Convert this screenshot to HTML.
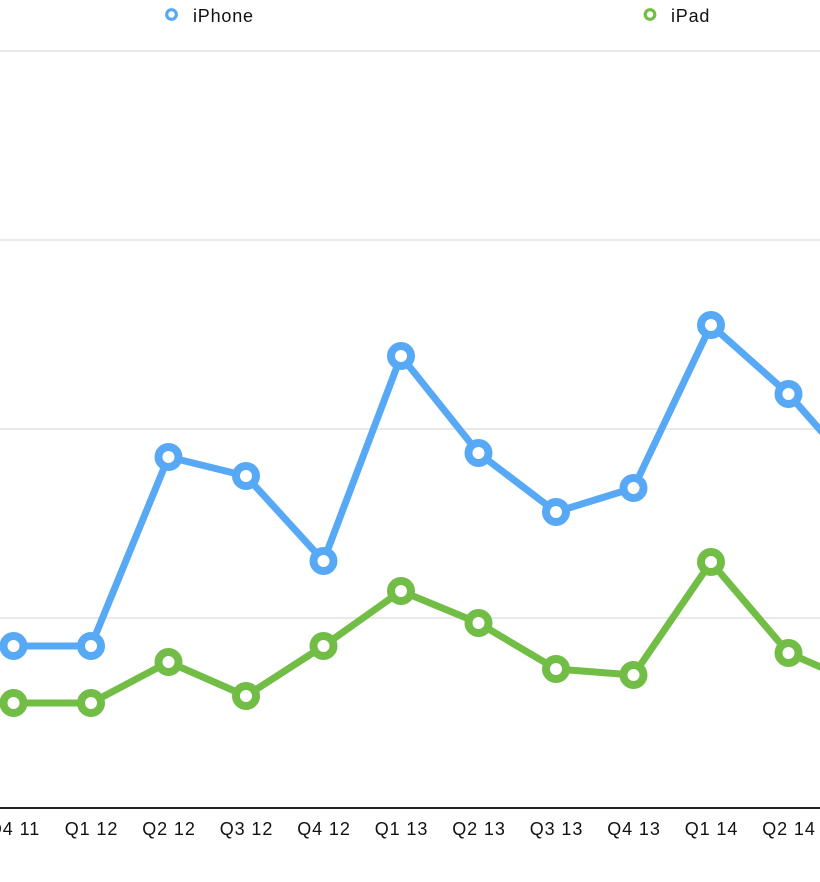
<!DOCTYPE html>
<html>
<head>
<meta charset="utf-8">
<style>
  html, body { margin:0; padding:0; background:#fff; }
  svg { display:block; }
  text { font-family: "Liberation Sans", Arial, sans-serif; fill:#111; }
</style>
</head>
<body>
<svg width="820" height="882" viewBox="0 0 820 882" xmlns="http://www.w3.org/2000/svg">
  <rect width="820" height="882" fill="#fff"/>
  <!-- gridlines -->
  <g stroke="#dcdcdc" stroke-width="1.2">
    <line x1="0" y1="51" x2="820" y2="51"/>
    <line x1="0" y1="240" x2="820" y2="240"/>
    <line x1="0" y1="429" x2="820" y2="429"/>
    <line x1="0" y1="618" x2="820" y2="618"/>
  </g>
  <!-- axis -->
  <line x1="0" y1="808" x2="820" y2="808" stroke="#222" stroke-width="2"/>

  <!-- legend -->
  <circle cx="171.5" cy="14.5" r="4.8" fill="#fff" stroke="#57a9f5" stroke-width="3.2"/>
  <text x="193" y="22" font-size="18" letter-spacing="0.8">iPhone</text>
  <circle cx="650" cy="14.5" r="4.8" fill="#fff" stroke="#71bd45" stroke-width="3.2"/>
  <text x="671" y="22" font-size="18" letter-spacing="0.8">iPad</text>

  <!-- series lines -->
  <polyline fill="none" stroke="#71bd45" stroke-width="7" stroke-linejoin="round" stroke-linecap="round"
    points="13.5,703 91,703 168.5,662 246,696 323.5,646 401,591 478.5,623 556,669 633.5,675 711,562 788.5,653 866,687"/>
  <polyline fill="none" stroke="#57a9f5" stroke-width="7" stroke-linejoin="round" stroke-linecap="round"
    points="13.5,646 91,646 168.5,457 246,476 323.5,561 401,356 478.5,453 556,512 633.5,488 711,325 788.5,394 866,482"/>

  <!-- markers -->
  <g fill="#fff" stroke="#71bd45" stroke-width="8">
    <circle cx="13.5" cy="703" r="10"/>
    <circle cx="91" cy="703" r="10"/>
    <circle cx="168.5" cy="662" r="10"/>
    <circle cx="246" cy="696" r="10"/>
    <circle cx="323.5" cy="646" r="10"/>
    <circle cx="401" cy="591" r="10"/>
    <circle cx="478.5" cy="623" r="10"/>
    <circle cx="556" cy="669" r="10"/>
    <circle cx="633.5" cy="675" r="10"/>
    <circle cx="711" cy="562" r="10"/>
    <circle cx="788.5" cy="653" r="10"/>
  </g>
  <g fill="#fff" stroke="#57a9f5" stroke-width="8">
    <circle cx="13.5" cy="646" r="10"/>
    <circle cx="91" cy="646" r="10"/>
    <circle cx="168.5" cy="457" r="10"/>
    <circle cx="246" cy="476" r="10"/>
    <circle cx="323.5" cy="561" r="10"/>
    <circle cx="401" cy="356" r="10"/>
    <circle cx="478.5" cy="453" r="10"/>
    <circle cx="556" cy="512" r="10"/>
    <circle cx="633.5" cy="488" r="10"/>
    <circle cx="711" cy="325" r="10"/>
    <circle cx="788.5" cy="394" r="10"/>
  </g>

  <!-- x labels -->
  <g font-size="18" letter-spacing="0.9" text-anchor="middle">
    <text x="14" y="835">Q4 11</text>
    <text x="91.5" y="835">Q1 12</text>
    <text x="169" y="835">Q2 12</text>
    <text x="246.5" y="835">Q3 12</text>
    <text x="324" y="835">Q4 12</text>
    <text x="401.5" y="835">Q1 13</text>
    <text x="479" y="835">Q2 13</text>
    <text x="556.5" y="835">Q3 13</text>
    <text x="634" y="835">Q4 13</text>
    <text x="711.5" y="835">Q1 14</text>
    <text x="789" y="835">Q2 14</text>
  </g>
</svg>
</body>
</html>
